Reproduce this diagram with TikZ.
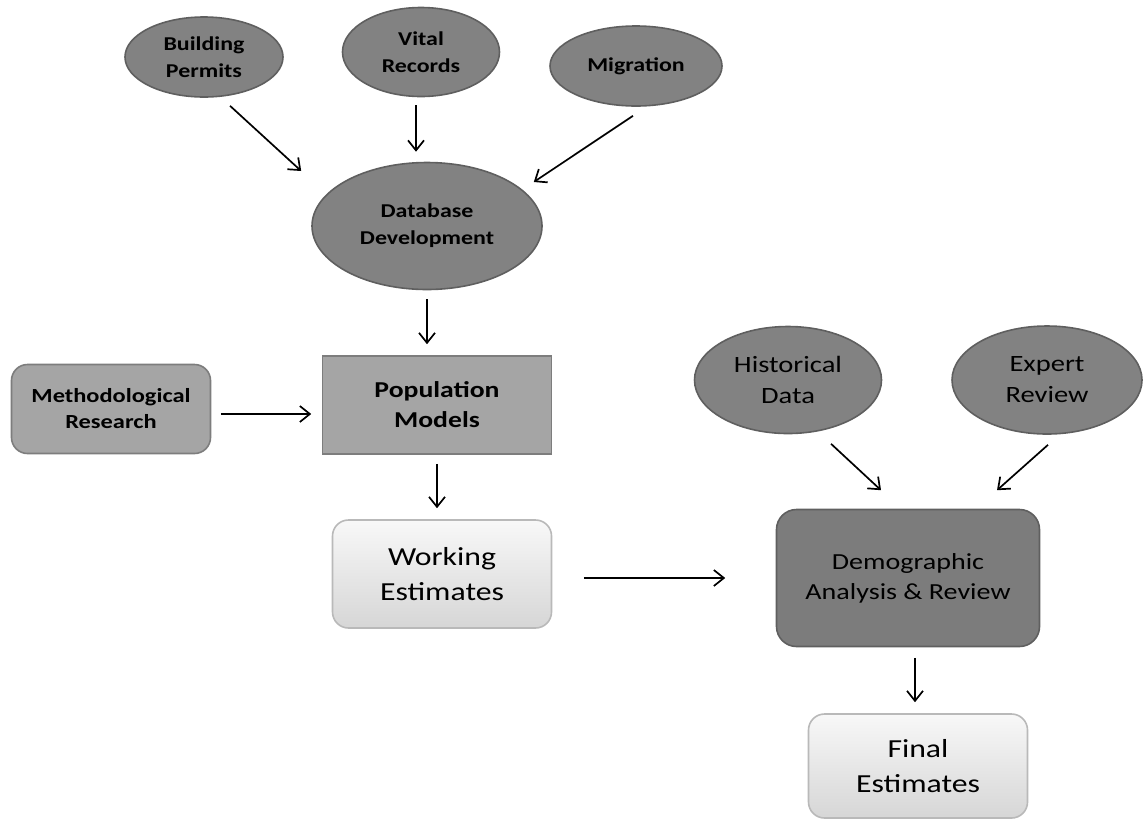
\documentclass[tikz,border=0pt]{standalone}
\usepackage{fontspec}
\setmainfont{Carlito}[FakeStretch=1.22]
\usepackage{tikz}
\usetikzlibrary{shapes.geometric}
\usetikzlibrary{arrows.meta}

\definecolor{ellfill}{RGB}{130,130,130}
\definecolor{elldraw}{RGB}{95,95,95}
\definecolor{boxfill}{RGB}{165,165,165}
\definecolor{boxdraw}{RGB}{125,125,125}
\definecolor{darkfill}{RGB}{124,124,124}
\definecolor{lighttop}{RGB}{248,248,248}
\definecolor{lightbot}{RGB}{214,214,214}
\definecolor{lightdraw}{RGB}{185,185,185}

\begin{document}
\begin{tikzpicture}[x=0.5pt, y=-0.5pt,
    src/.style={ellipse, draw=elldraw, fill=ellfill, line width=0.8pt, inner sep=0pt, align=center},
    small/.style={font=\fontsize{9.8}{13.5}\selectfont\bfseries},
    big/.style={font=\fontsize{11.7}{15.5}\selectfont},
    stepbox/.style={rectangle, line width=0.8pt, inner sep=0pt, align=center},
    lightbox/.style={stepbox, rounded corners=8pt, draw=lightdraw, top color=lighttop, bottom color=lightbot, font=\fontsize{13}{17.5}\selectfont},
    arr/.style={-{Straight Barb[length=5pt, width=8pt]}, line width=0.85pt}]

    \useasboundingbox (0,0) rectangle (1143,820);

    \node [src, small, minimum width=79pt, minimum height=40pt] (bp) at (204,57) {Building\\Permits};
    \node [src, small, minimum width=78.5pt, minimum height=44.5pt] (vr) at (421,52) {Vital\\Records};
    \node [src, small, minimum width=86pt, minimum height=40pt] (mig) at (636,66) {Migration};
    \node [src, small, minimum width=115pt, minimum height=63.5pt] (db) at (427,226) {Database\\Development};

    \node [stepbox, rounded corners=8pt, draw=boxdraw, fill=boxfill, minimum width=99.5pt, minimum height=44.5pt,
        font=\fontsize{10}{13}\selectfont\bfseries] (mr) at (111,409) {Methodological\\Research};
    \node [stepbox, draw=boxdraw, fill=boxfill, minimum width=114.5pt, minimum height=49pt,
        font=\fontsize{11.35}{15}\selectfont\bfseries] (pm) at (437,405) {Population\\Models};
    \node [lightbox, minimum width=109.5pt, minimum height=54pt] (we) at (442,574) {Working\\Estimates};

    \node [src, big, minimum width=93.5pt, minimum height=53.5pt] (hd) at (788,380) {Historical\\Data};
    \node [src, big, minimum width=95pt, minimum height=54pt] (er) at (1047,380) {Expert\\Review};
    \node [stepbox, rounded corners=10pt, draw=elldraw, fill=darkfill, minimum width=131.5pt, minimum height=68.5pt,
        font=\fontsize{11.5}{15}\selectfont] (da) at (908,578) {Demographic\\Analysis \& Review};
    \node [lightbox, minimum width=109.5pt, minimum height=52pt] (fe) at (918,766) {Final\\Estimates};

    \draw [arr] ([shift={(26,8)}]bp.south) -- ([shift={(-10,-55)}]db.west);
    \draw [arr] ([shift={(-5,8)}]vr.south) -- ([shift={(-11,-10)}]db.north);
    \draw [arr] ([shift={(-3,9)}]mig.south) -- ([shift={(-9,-44)}]db.east);
    \draw [arr] ([shift={(0,9)}]db.south) -- ([shift={(-10,-11)}]pm.north);
    \draw [arr] ([shift={(9.5,5)}]mr.east) -- ([shift={(-10.5,9)}]pm.west);
    \draw [arr] ([shift={(0,9)}]pm.south) -- ([shift={(-5,-11)}]we.north);
    \draw [arr] ([shift={(31.5,4)}]we.east) -- ([shift={(-50.5,0)}]da.west);
    \draw [arr] ([shift={(43,9.5)}]hd.south) -- ([shift={(-27,-18.5)}]da.north);
    \draw [arr] ([shift={(1,10)}]er.south) -- ([shift={(89,-18.5)}]da.north);
    \draw [arr] ([shift={(7,10.5)}]da.south) -- ([shift={(-3,-11)}]fe.north);

\end{tikzpicture}
\end{document}
